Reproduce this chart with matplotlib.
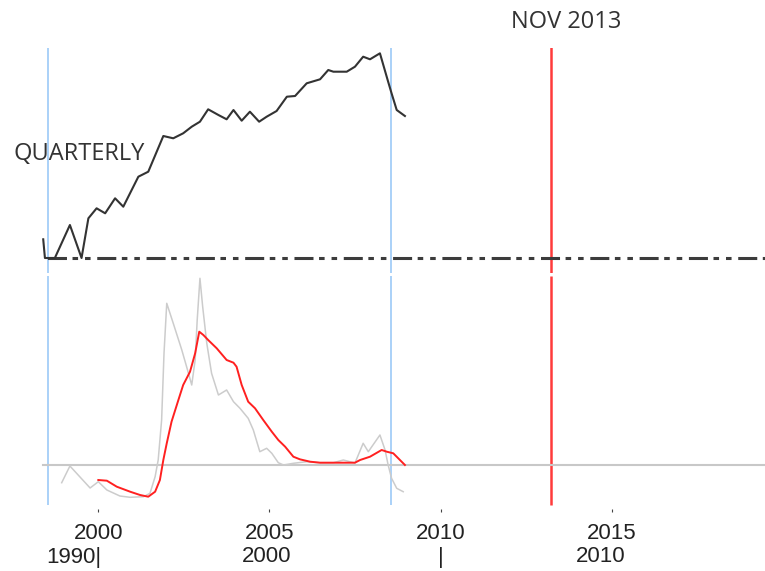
import matplotlib
matplotlib.use("Agg")
import matplotlib.pyplot as plt

# quarterly series (upper panel), value 0 = dash-dot baseline
q_years = [1998.39, 1998.44, 1998.73, 1999.17, 1999.51, 1999.71, 1999.95, 2000.20,
           2000.49, 2000.73, 2001.17, 2001.46, 2001.90, 2002.19, 2002.48, 2002.73,
           2002.97, 2003.21, 2003.51, 2003.75, 2003.95, 2004.19, 2004.43, 2004.70,
           2004.92, 2005.21, 2005.51, 2005.75, 2006.09, 2006.48, 2006.72, 2006.87,
           2007.26, 2007.50, 2007.74, 2007.94, 2008.23, 2008.47, 2008.57, 2008.72,
           2008.96]
q_values = [18.7, 0, 0, 33, 0, 39.7, 49.7, 44.7,
            59.7, 51.3, 81.3, 86.3, 122, 119.7, 124.7, 131.3,
            136.3, 148.7, 143, 138.7, 148, 137.3, 146.3, 136.3,
            141.3, 147, 161.3, 162, 174.7, 178.7, 188, 186.3,
            186.3, 191.3, 201.3, 198.7, 204.7, 176.3, 164.7, 148,
            142]

# lower panel, gray (raw) series
g_years = [1998.93, 1999.17, 1999.76, 2000.00, 2000.25, 2000.63, 2000.93, 2001.32,
           2001.51, 2001.66, 2001.75, 2001.85, 2001.92, 2002.00, 2002.19, 2002.44,
           2002.58, 2002.73, 2002.83, 2002.89, 2002.97, 2003.05, 2003.17, 2003.31,
           2003.51, 2003.75, 2003.95, 2004.14, 2004.38, 2004.53, 2004.72, 2004.92,
           2005.07, 2005.26, 2005.41, 2005.70, 2006.09, 2006.48, 2006.87, 2007.16,
           2007.50, 2007.74, 2007.89, 2008.23, 2008.38, 2008.47, 2008.57, 2008.72,
           2008.91]
g_values = [-17.7, -1, -23, -16.7, -25, -31, -32.3, -31.7,
            -28.3, -11.7, 5, 45, 111.7, 161.7, 141.7, 115,
            98.3, 80, 105, 145, 186.7, 158.3, 121.7, 91.7,
            70, 75, 63.3, 56.7, 46.7, 35, 13.3, 16.7,
            11.7, 2.3, 0, 1.7, 3.3, 2.3, 2.3, 5,
            2, 21.7, 13.3, 30, 15, 0, -13.3, -23.3,
            -26.7]

# lower panel, red (smoothed) series
r_years = [2000.00, 2000.25, 2000.54, 2000.93, 2001.22, 2001.46, 2001.66, 2001.80,
           2001.90, 2002.00, 2002.14, 2002.34, 2002.48, 2002.68, 2002.83, 2002.95,
           2003.07, 2003.21, 2003.46, 2003.75, 2003.95, 2004.04, 2004.19, 2004.38,
           2004.58, 2004.82, 2005.07, 2005.26, 2005.46, 2005.70, 2005.89, 2006.19,
           2006.48, 2006.87, 2007.50, 2007.65, 2007.94, 2008.28, 2008.43, 2008.62,
           2008.96]
r_values = [-15, -15.7, -21.7, -26.7, -30, -31.7, -26.7, -15,
            5, 21.7, 43.3, 65, 80, 93.3, 111.7, 133.3,
            130, 125, 116.7, 105, 102.3, 98.3, 80, 63.3,
            56.7, 45, 33.3, 25, 18.3, 8.3, 5.7, 3.3,
            2.3, 2.3, 2.3, 5, 8.3, 15, 13.3, 11.7,
            0]

blue_marks = [1998.52, 2008.55]
nov_2013 = 2013.24
ticks = [2000, 2005, 2010, 2015]
tick_labels = ["2000", "2005", "2010", "2015"]
second_row = [(2000.09, "1990|", "right"), (2004.91, "2000", "center"),
              (2010.0, "|", "center"), (2014.69, "2010", "center")]

plt.rcParams["lines.scale_dashes"] = False
W, H = 765, 571
xlim = (1997.127, 2019.483)
x_start = 1998.39

fig = plt.figure(figsize=(W / 100, H / 100), dpi=100)
ax_top = fig.add_axes([0, 1 - 273 / H, 1, 225 / H])
ax_bot = fig.add_axes([0, 1 - 509 / H, 1, 233 / H])

for ax in (ax_top, ax_bot):
    ax.set_xlim(*xlim)
    for s in ax.spines.values():
        s.set_visible(False)
    ax.set_yticks([])
    ax.patch.set_alpha(0)

ax_top.set_ylim(-15, 210)
ax_bot.set_ylim(-44, 189)

# upper panel
for x in blue_marks:
    ax_top.axvline(x, color="#9ccaf7", lw=1.2, zorder=1)
ax_top.axvline(nov_2013, color="#ff3b3b", lw=1.8, zorder=1)
ax_top.plot([x_start, xlim[1]], [0, 0], color="#3c3c3c", lw=2.2,
            linestyle=(32.3, (13.7, 4.0, 4.0, 5.0, 4.0, 4.8)), zorder=2)
ax_top.plot(q_years, q_values, color="#333333", lw=1.5, zorder=3)
ax_top.set_xticks([])
ax_top.text(1997.51, 104, "QUARTERLY", fontsize=17, family="Open Sans",
            color="#333333", va="center", ha="left")
ax_top.text(2012.05, 210 + 26, "NOV 2013", fontsize=17, family="Open Sans",
            color="#333333", va="center", ha="left", clip_on=False)

# lower panel
for x in blue_marks:
    ax_bot.vlines(x, -40, 189, color="#9ccaf7", lw=1.2, zorder=1)
ax_bot.vlines(nov_2013, -40, 189, color="#ff3b3b", lw=1.8, zorder=1)
ax_bot.plot([x_start, xlim[1]], [0, 0], color="#c8c8c8", lw=1.5, zorder=2)
ax_bot.plot(g_years, g_values, color="#cccccc", lw=1.1, zorder=3)
ax_bot.plot(r_years, r_values, color="#ff2020", lw=1.4, zorder=4)

ax_bot.set_xticks(ticks)
ax_bot.set_xticklabels(tick_labels, family="Liberation Sans", fontsize=16, color="#222222")
ax_bot.tick_params(axis="x", length=2.2, width=0.8, color="#444444", pad=7.6)

for x, label, ha in second_row:
    ax_bot.text(x, (509 - 557) / 233, label, transform=ax_bot.get_xaxis_transform(),
                family="Liberation Sans", fontsize=16, color="#222222",
                ha=ha, va="center")

fig.savefig("out.png", dpi=100)
